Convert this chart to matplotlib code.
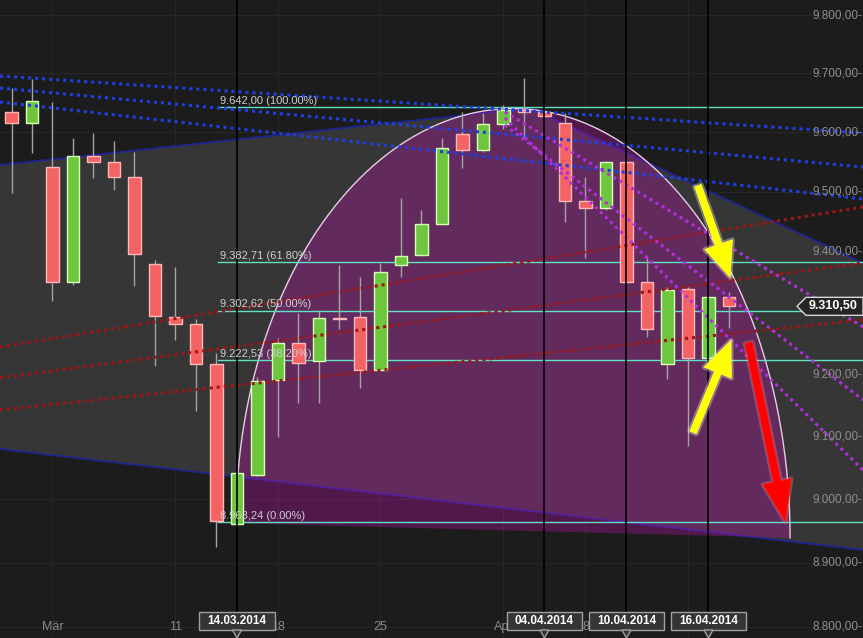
import numpy as np
import matplotlib
matplotlib.use("Agg")
import matplotlib.pyplot as plt
from matplotlib.patches import Polygon, Rectangle, FancyArrowPatch
import matplotlib.transforms as mtransforms
import matplotlib.patheffects as pe
from matplotlib.ticker import NullLocator

plt.rcParams['font.family'] = ['Liberation Sans', 'DejaVu Sans']

# ---------------- data ----------------
opens  = [9634, 9616, 9541, 9351, 9560, 9550, 9525, 9380, 9293, 9282,
          9217, 8960, 9038, 9191, 9251, 9222, 9291, 9293, 9207, 9378,
          9395, 9446, 9597, 9570, 9614, 9637, 9634, 9615, 9485, 9473,
          9550, 9351, 9216, 9339, 9226, 9326]
highs  = [9675, 9690, 9651, 9590, 9598, 9585, 9567, 9387, 9375, 9290,
          9235, 9044, 9196, 9259, 9300, 9305, 9378, 9359, 9381, 9489,
          9470, 9590, 9634, 9632, 9646, 9692, 9640, 9632, 9525, 9552,
          9552, 9390, 9342, 9342, 9327, 9334]
lows   = [9498, 9565, 9319, 9346, 9523, 9503, 9344, 9214, 9256, 9141,
          8925, 8958, 9036, 9099, 9154, 9154, 9273, 9178, 9205, 9359,
          9393, 9444, 9540, 9566, 9605, 9592, 9628, 9450, 9390, 9470,
          9350, 9260, 9193, 9085, 9224, 9275]
closes = [9616, 9653, 9351, 9560, 9550, 9525, 9397, 9295, 9282, 9217,
          8966, 9042, 9189, 9251, 9218, 9292, 9289, 9207, 9367, 9393,
          9446, 9573, 9570, 9614, 9637, 9635, 9628, 9485, 9473, 9550,
          9351, 9274, 9337, 9226, 9326, 9310.5]

x_tick_pos = [2, 8, 13, 18, 24, 28]
x_tick_labels = ["Mär", "11", "18", "25", "Apr", "8"]
grid_x = [2, 8, 13, 18, 24, 28, 33]

marker_idx = [11, 26, 30, 34]
marker_labels = ["14.03.2014", "04.04.2014", "10.04.2014", "16.04.2014"]

fib_levels = [9642.00, 9382.71, 9302.62, 9222.53, 8963.24]
fib_pcts = ["100.00%", "61.80%", "50.00%", "38.20%", "0.00%"]
fib_start = 10.05

y_ticks = [8800, 8900, 9000, 9100, 9200, 9300, 9400, 9500, 9600, 9700, 9800]
last_price = 9310.50

x_range = (-0.561, 41.537)
y_range = (8782.9, 9825.9)

blue_lines = [((-0.561, 9695.4), (41.537, 9598.7)),
              ((-0.561, 9675.0), (41.537, 9541.5)),
              ((-0.561, 9651.2), (41.537, 9488.0))]
red_lines = [((-0.561, 9244.1), (41.537, 9474.6)),
             ((-0.561, 9194.0), (41.537, 9381.8)),
             ((-0.561, 9142.4), (41.537, 9288.2))]
magenta_lines = [((24.07, 9634.2), (41.537, 9276.9)),
                 ((24.07, 9612.2), (41.537, 9158.5)),
                 ((24.07, 9624.1), (41.537, 9046.3))]

channel_upper = [(-0.561, 9544.8), (25.29, 9641.0), (41.537, 9381.8)]
channel_lower = [(-0.561, 9079.8), (41.537, 8920.0)]

ell_left, ell_right = 10.95, 37.98
ell_top = 9640.0
ell_base_left, ell_base_right = 8962.0, 8939.0

yellow_arrows = [((33.44, 9514.6), (35.10, 9353.7)),
                 ((33.20, 9102.3), (35.15, 9258.9))]
red_arrow = ((35.93, 9255.6), (37.78, 8959.3))

# ---------------- style ----------------
BG = '#1c1c1c'
GRAY = '#363636'
CHANNEL_LINE = '#1f2590'
PURPLE = (0.80, 0.08, 0.72, 0.30)
CYAN = '#62e0c4'
RED_F, RED_E = '#f36363', '#ffb8b8'
GRN_F, GRN_E = '#6ec63e', '#d8ffbc'
WICK = '#a4a4a4'


def de(v):
    s = f"{v:,.2f}"
    return s.replace(",", "X").replace(".", ",").replace("X", ".")


fig = plt.figure(figsize=(8.63, 6.38), dpi=100, facecolor=BG)
ax = fig.add_axes([0, 0, 1, 1])
ax.set_facecolor(BG)
ax.set_yscale('log')
ax.set_xlim(*x_range)
ax.set_ylim(*y_range)
for s in ax.spines.values():
    s.set_visible(False)
ax.xaxis.set_major_locator(NullLocator())
ax.xaxis.set_minor_locator(NullLocator())
ax.yaxis.set_major_locator(NullLocator())
ax.yaxis.set_minor_locator(NullLocator())

bx = mtransforms.blended_transform_factory(ax.transData, ax.transAxes)
by = mtransforms.blended_transform_factory(ax.transAxes, ax.transData)

# faint grid
for v in y_ticks:
    ax.axhline(v, color='#272727', lw=0.8, zorder=0.5)
for gx in grid_x:
    ax.axvline(gx, color='#272727', lw=0.8, zorder=0.5)

# gray channel
chan = channel_upper + [channel_lower[1], channel_lower[0]]
ax.add_patch(Polygon(chan, closed=True, fc=GRAY, ec='none', zorder=1))
ax.plot([p[0] for p in channel_upper], [p[1] for p in channel_upper],
        color=CHANNEL_LINE, lw=1.3, zorder=1.5)
ax.plot([p[0] for p in channel_lower], [p[1] for p in channel_lower],
        color=CHANNEL_LINE, lw=1.3, zorder=1.5)

# purple arc
t = np.linspace(0, np.pi, 300)
cx = (ell_left + ell_right) / 2
a = (ell_right - ell_left) / 2
xe = cx + a * np.cos(t)
frac = (xe - ell_left) / (ell_right - ell_left)
lbase = np.log(ell_base_left) + frac * (np.log(ell_base_right) - np.log(ell_base_left))
ye = np.exp(lbase + (np.log(ell_top) - lbase) * np.sin(t))
ax.add_patch(Polygon(np.column_stack([xe, ye]), closed=True, fc=PURPLE,
                     ec='none', zorder=2))
ax.plot(xe, ye, color='#e6cde6', lw=1.0, zorder=2.2)

# fib lines
for lv, pc in zip(fib_levels, fib_pcts):
    ax.plot([fib_start, x_range[1]], [lv, lv], color=CYAN, lw=1.0, zorder=2.5)
    ax.text(fib_start + 0.12, lv * 1.0003, f"{de(lv)} ({pc})", color='#cfcfcf',
            fontsize=8, ha='left', va='bottom', zorder=8)

# candles
w = 0.62
for i, (o, h, l, c) in enumerate(zip(opens, highs, lows, closes)):
    up = c > o
    ax.vlines(i, l, h, color=WICK, lw=1.0, zorder=3)
    lo, hi = min(o, c), max(o, c)
    if hi - lo < 2:
        hi = lo + 2
    ax.add_patch(Rectangle((i - w / 2, lo), w, hi - lo,
                           fc=GRN_F if up else RED_F,
                           ec=GRN_E if up else RED_E, lw=1.0, zorder=3.2))

# dotted trend lines
def dotted(lines, color):
    for (x0, y0), (x1, y1) in lines:
        ax.plot([x0, x1], [y0, y1], color=color, lw=2.2,
                linestyle=(0, (1, 1.3)), dash_capstyle='butt', zorder=5)

dotted(blue_lines, '#1f3fe0')
dotted(red_lines, '#a01616')
dotted(magenta_lines, '#b22ee0')

# black date cursor lines
for mi in marker_idx:
    ax.axvline(mi, color='black', lw=1.2, zorder=6)

# arrows
glow = [pe.withStroke(linewidth=3.5, foreground=(1, 1, 0.85, 0.35))]
for (p0, p1) in yellow_arrows:
    ar = FancyArrowPatch(p0, p1,
                         arrowstyle='simple,head_length=1.25,head_width=1.05,tail_width=0.25',
                         mutation_scale=20, fc='#ffff00', ec='#ffff40', lw=0.5, zorder=7)
    ar.set_path_effects(glow)
    ax.add_patch(ar)
ra = FancyArrowPatch(red_arrow[0], red_arrow[1],
                     arrowstyle='simple,head_length=1.5,head_width=1.05,tail_width=0.28',
                     mutation_scale=20, fc='#ff0000', ec='#ff2020', lw=0.5, zorder=7)
ra.set_path_effects([pe.withStroke(linewidth=3, foreground=(1, 0.7, 0.7, 0.25))])
ax.add_patch(ra)

# y tick labels
for v in y_ticks:
    ax.text(0.9995, v, de(v) + "-", transform=by, ha='right', va='center',
            color='#8e8e8e', fontsize=8.5, zorder=8)

# x tick labels
for xp, lb in zip(x_tick_pos, x_tick_labels):
    ax.text(xp, 0.017, lb, transform=bx, ha='center', va='center',
            color='#8a8a8a', fontsize=9, zorder=8)

# date boxes
half = 1.83
for mi, lb in zip(marker_idx, marker_labels):
    ax.add_patch(Rectangle((mi - half, 0.0125), 2 * half, 0.0283, transform=bx,
                           fc='#353535', ec='#a0a0a0', lw=1.0, zorder=9))
    ax.add_patch(Polygon([(mi - 0.22, 0.0125), (mi + 0.22, 0.0125), (mi, 0.0)],
                         closed=True, transform=bx, fc='#353535', ec='#a0a0a0',
                         lw=1.0, zorder=9))
    ax.text(mi, 0.0268, lb, transform=bx, ha='center', va='center',
            color='white', fontsize=8.5, fontweight='bold', zorder=10)

# last price tag
fig.canvas.draw()
yc = (ax.transData + ax.transAxes.inverted()).transform((0, last_price))[1]
hh = 9 / 638
tag = [(797 / 863, yc), (806 / 863, yc + hh), (1.0, yc + hh), (1.0, yc - hh), (806 / 863, yc - hh)]
ax.add_patch(Polygon(tag, closed=True, transform=ax.transAxes, fc='#262626',
                     ec='#d8d8d8', lw=1.0, zorder=9))
ax.text(833 / 863, yc, de(last_price), transform=ax.transAxes, ha='center',
        va='center', color='white', fontsize=9, fontweight='bold', zorder=10)

fig.savefig('out.png', dpi=100, facecolor=BG)
